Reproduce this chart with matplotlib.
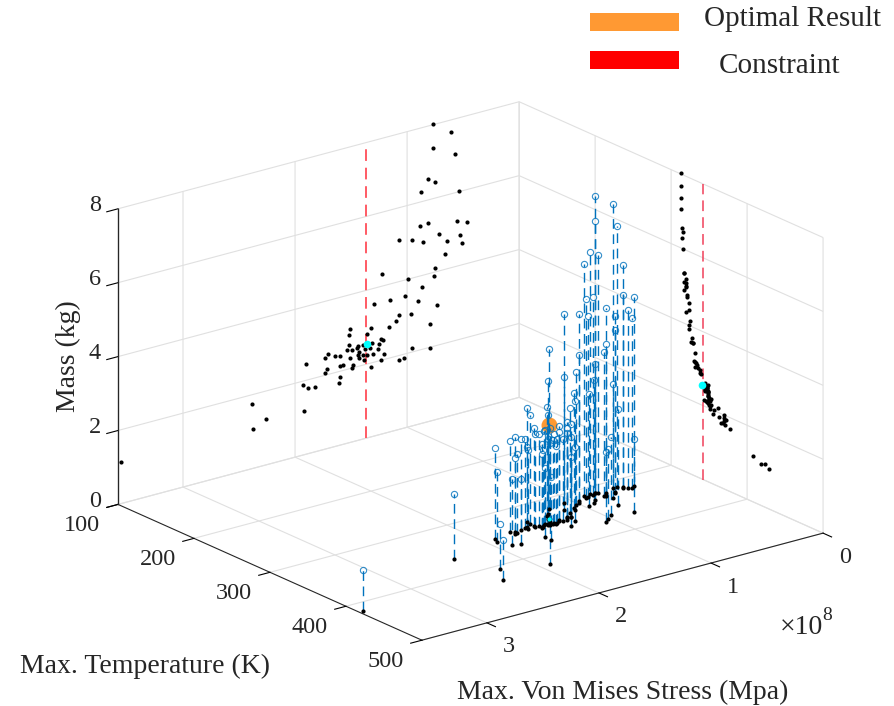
import numpy as np
import matplotlib
matplotlib.use('Agg')
import matplotlib.pyplot as plt
from matplotlib.patches import Rectangle
from mpl_toolkits.mplot3d import proj3d

plt.rcParams['font.family'] = ['Liberation Serif', 'DejaVu Serif']

# design points: stress (x 1e8), max temperature (K), mass (kg)
stress = [0.765, 0.604, 0.765, 0.574, 0.815, 0.75, 0.872, 0.536, 0.881, 0.81, 0.554, 0.467,
          0.712, 0.529, 1.069, 0.958, 0.86, 0.643, 0.509, 0.663, 0.75, 1.223, 0.988, 0.762,
          0.866, 1.021, 1.154, 0.902, 1.292, 0.735, 0.967, 1.074, 1.101, 0.797, 1.161, 1.321,
          1.512, 1.36, 1.521, 1.235, 1.212, 1.315, 1.247, 1.518, 1.39, 1.435, 1.449, 1.33,
          1.259, 0.958, 0.795, 1.533, 1.494, 1.375, 1.426, 1.708, 1.646, 1.601, 1.435, 1.396,
          1.36, 1.301, 1.208, 1.735, 1.509, 1.426, 1.384, 1.235, 1.069, 1.029, 1.902, 1.598,
          1.574, 1.485, 1.319, 1.712, 1.494, 1.735, 1.596, 1.604, 1.931, 1.884, 1.819, 2.387,
          1.917, 2.259, 2.378, 3.55]
temperature = [313, 313, 313, 313, 314, 315, 314, 316, 317.5, 317, 319, 320,
               319, 321, 317, 320, 317.5, 321, 323, 324, 325, 320, 324, 324,
               327, 326, 329, 332, 329, 332, 334, 330, 336, 348, 338, 332,
               333, 339, 338, 345, 347, 346, 347, 344, 346, 346, 347, 348,
               349, 362, 369, 347, 347, 348, 348, 346, 345, 344, 349, 350,
               350, 350, 346, 344, 352, 351, 352, 356, 372, 369, 349, 347,
               343, 350, 363, 349, 351, 351, 370, 378, 355, 368, 371, 366,
               423, 408, 429, 418]
mass = [8.02, 7.68, 7.36, 7.05, 6.56, 6.44, 6.27, 6.01, 5.36, 5.37, 5.22, 5.11,
        5.01, 4.81, 5.11, 5.04, 4.90, 4.74, 4.60, 4.42, 4.12, 4.32, 4.01, 3.91,
        3.68, 3.58, 3.58, 3.33, 3.58, 3.10, 3.03, 3.09, 2.97, 2.62, 2.85, 2.94,
        3.07, 2.82, 2.93, 2.57, 2.54, 2.54, 2.44, 2.64, 2.55, 2.54, 2.52, 2.42,
        2.33, 2.12, 1.99, 2.51, 2.48, 2.41, 2.38, 2.56, 2.46, 2.42, 2.32, 2.27,
        2.26, 2.23, 2.16, 2.47, 2.28, 2.22, 2.12, 2.01, 1.88, 1.91, 2.45, 2.15,
        2.15, 2.08, 1.88, 2.14, 1.99, 2.06, 1.85, 1.69, 1.89, 1.77, 1.75, 1.76,
        1.17, 1.23, 1.08, 1.11]

optimal = (1.36, 340, 2.55)
stress_limit = 1.37
temp_limit = 342

stress_ticks = [0, 1, 2, 3]
temp_ticks = [100, 200, 300, 400, 500]
mass_ticks = [0, 2, 4, 6, 8]

FIG_W, FIG_H = 894, 706
INK = '#262626'
BLUE = '#0072BD'
ORANGE = '#FF9933'
STRESS_MAX, T_MIN, T_MAX, M_MAX = 3.58, 100, 500, 8


def figx(px):
    return px / FIG_W


def figy(py):
    return 1 - py / FIG_H


plt.rcParams['grid.color'] = '#e0e0e0'
plt.rcParams['grid.linewidth'] = 0.8
plt.rcParams['axes.edgecolor'] = INK
plt.rcParams['axes.linewidth'] = 0.8

fig = plt.figure(figsize=(FIG_W / 100, FIG_H / 100), dpi=100)
side = 580
ax = fig.add_axes([figx(172.7), 37.2 / FIG_H, side / FIG_W, side / FIG_H],
                  projection='3d', proj_type='ortho', computed_zorder=False)
ax.view_init(elev=20.2, azim=52.3)
ax.set_box_aspect((507, 497, 315), zoom=1.3)
ax.set_xlim(0, STRESS_MAX, view_margin=0)
ax.set_ylim(T_MIN, T_MAX, view_margin=0)
ax.set_zlim(0, M_MAX, view_margin=0)
ax.set_xticks(stress_ticks)
ax.set_yticks(temp_ticks)
ax.set_zticks(mass_ticks)
ax.set_xticklabels([])
ax.set_yticklabels([])
ax.set_zticklabels([])
ax.patch.set_alpha(0)

for axis in (ax.xaxis, ax.yaxis, ax.zaxis):
    axis.set_pane_color((1, 1, 1, 0))
    axis.pane.set_edgecolor('none')
    axis._axinfo['tick']['inward_factor'] = 0.35
    axis._axinfo['tick']['outward_factor'] = 0
    axis._axinfo['tick']['linewidth'] = {True: 0.8, False: 0.8}
    axis._axinfo['tick']['color'] = INK

s = np.array(stress)
t = np.array(temperature, dtype=float)
m = np.array(mass)

# z axis sits on the front left edge
ax.plot([STRESS_MAX] * 2, [T_MIN] * 2, [0, M_MAX], color=INK, lw=0.9, clip_on=False, zorder=1)

# stems from floor to each design point
for si, ti, mi in zip(s, t, m):
    ax.plot([si, si], [ti, ti], [0, mi], color=BLUE, lw=1.0, ls=(0, (7, 4)), zorder=3, clip_on=False)

# projections on the two walls and on the floor
dot = dict(ls='', marker='o', ms=3, color='black', mew=0, clip_on=False)
ax.plot(s, np.full_like(t, T_MIN), m, zorder=2, **dot)
ax.plot(np.zeros_like(s), t, m, zorder=2, **dot)
ax.plot(s, t, np.zeros_like(m), zorder=4, **dot)

# constraint lines
ax.plot([stress_limit] * 2, [T_MIN] * 2, [0, M_MAX], color='#ff5a64', lw=1.4, ls=(0, (6, 3.5)), zorder=1)
ax.plot([0, 0], [temp_limit] * 2, [0, M_MAX], color='#f0405a', lw=1.1, ls=(0, (7, 4)), zorder=1)

# optimal point and its projections
ax.plot([optimal[0]], [T_MIN], [optimal[2]], marker='o', ms=5.5, color='cyan', mew=0, zorder=5)
ax.plot([0], [optimal[1]], [optimal[2]], marker='o', ms=5.5, color='cyan', mew=0, zorder=5)
ax.plot([optimal[0]], [optimal[1]], [0], marker='o', ms=3, color='cyan', mew=0, zorder=5)
ax.plot([optimal[0]], [optimal[1]], [optimal[2]], marker='o', ms=11.5, color=ORANGE, mew=0, zorder=2.5)

ax.plot(s, t, m, ls='', marker='o', ms=4.5, mfc='none', mec=BLUE, mew=0.8, alpha=0.8, zorder=3.5, clip_on=False)


def tick_label(x, y, z, txt, dx, dy):
    xp, yp, _ = proj3d.proj_transform(x, y, z, ax.get_proj())
    ax.annotate(txt, xy=(xp, yp), xytext=(dx, dy), textcoords='offset pixels', ha='center',
                va='center', fontsize=17.5, color=INK, annotation_clip=False)


for v in stress_ticks:
    tick_label(v, T_MAX, 0, str(v), 22, -24)
for v in temp_ticks:
    tick_label(STRESS_MAX, v, 0, str(v), -36, -21)
for v in mass_ticks:
    tick_label(STRESS_MAX, T_MIN, v, str(v), -23, 3)

fig.text(figx(145), figy(666), 'Max. Temperature (K)', fontsize=20, color=INK, ha='center', va='center')
fig.text(figx(623), figy(692), 'Max. Von Mises Stress (Mpa)', fontsize=20, color=INK, ha='center', va='center')
fig.text(figx(68), figy(356), 'Mass (kg)', fontsize=20, color=INK, ha='center', va='center', rotation=90)
fig.text(figx(801), figy(627), '\u00d710', fontsize=20, color=INK, ha='center', va='center')
fig.text(figx(827), figy(616), '8', fontsize=14, color=INK, ha='center', va='center')

# manual legend
fig.patches.append(Rectangle((figx(590), figy(31)), 89 / FIG_W, 18 / FIG_H, transform=fig.transFigure,
                             facecolor=ORANGE, edgecolor='none', figure=fig))
fig.patches.append(Rectangle((figx(590), figy(69)), 89 / FIG_W, 18 / FIG_H, transform=fig.transFigure,
                             facecolor='#FF0000', edgecolor='none', figure=fig))
fig.text(figx(792), figy(19), 'Optimal Result', fontsize=21, color=INK, ha='center', va='center')
fig.text(figx(780), figy(66), 'Constraint', fontsize=21, color=INK, ha='center', va='center')

fig.savefig('out.png', dpi=100)
